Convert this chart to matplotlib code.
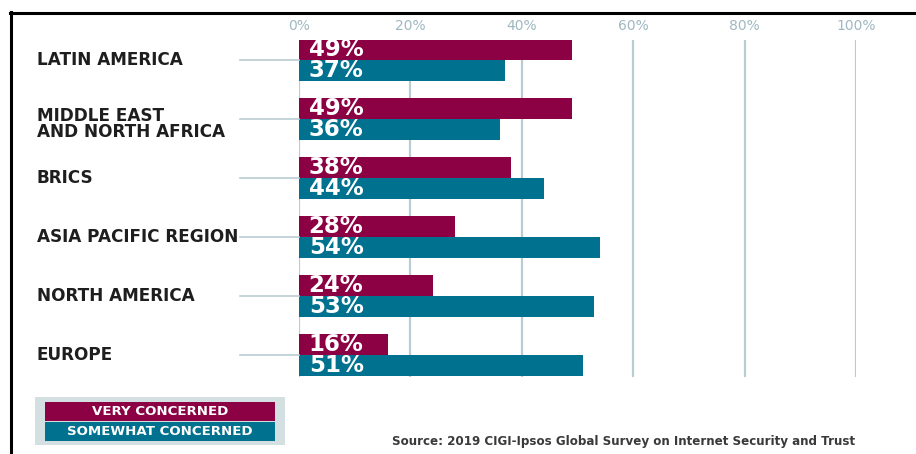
import matplotlib
matplotlib.use("Agg")
import matplotlib.pyplot as plt
import matplotlib.transforms as mtransforms
from matplotlib.patches import Rectangle
from matplotlib.lines import Line2D
import numpy as np

regions = ["LATIN AMERICA", "MIDDLE EAST\nAND NORTH AFRICA", "BRICS",
           "ASIA PACIFIC REGION", "NORTH AMERICA", "EUROPE"]
very_concerned = [49, 49, 38, 28, 24, 16]
somewhat_concerned = [37, 36, 44, 54, 53, 51]
x_ticks = [0, 20, 40, 60, 80, 100]
x_tick_labels = ["0%", "20%", "40%", "60%", "80%", "100%"]
legend_labels = ["VERY CONCERNED", "SOMEWHAT CONCERNED"]
source_text = "Source: 2019 CIGI-Ipsos Global Survey on Internet Security and Trust"

RED = "#8C0044"
BLUE = "#00718F"
GRID = "#B9CCD2"
TICK = "#9FB8C1"
LEGBG = "#D4DFE2"

W, H = 916, 454
fig = plt.figure(figsize=(W / 100, H / 100), dpi=100)
fig.patch.set_facecolor("white")
px = mtransforms.Affine2D().scale(1 / W, -1 / H).translate(0, 1) + fig.transFigure

# main axes: x 0..100 maps to px 299..856, y from px 40 to 377
x0, x1 = 299, 856
y_top, y_bot = 40, 377
ax = fig.add_axes([x0 / W, 1 - y_bot / H, (x1 - x0) / W, (y_bot - y_top) / H])
pitch = 59.0
center0 = 60.0
ax.set_xlim(0, 100)
ax.set_ylim((y_bot - center0) / pitch, (y_top - center0) / pitch)
for s in ax.spines.values():
    s.set_visible(False)
ax.set_facecolor("none")

pos = np.arange(len(regions))
bh = 0.362
ax.barh(pos - bh / 2, very_concerned, height=bh, color=RED, zorder=3)
ax.barh(pos + bh / 2, somewhat_concerned, height=bh, color=BLUE, zorder=3)

for xt in x_ticks:
    ax.axvline(xt, color=GRID, lw=1.6, zorder=1)

ax.set_xticks(x_ticks)
ax.set_xticklabels(x_tick_labels)
ax.xaxis.tick_top()
ax.tick_params(axis="x", length=0, pad=5, labelsize=10, labelcolor=TICK)
ax.set_yticks([])

for i, (v, s) in enumerate(zip(very_concerned, somewhat_concerned)):
    ax.annotate(f"{v}%", (0, i - bh / 2), xytext=(7, 0), textcoords="offset points",
                color="white", fontsize=16.5, fontweight="bold", va="center", ha="left",
                zorder=4)
    ax.annotate(f"{s}%", (0, i + bh / 2), xytext=(7, 0), textcoords="offset points",
                color="white", fontsize=16.5, fontweight="bold", va="center", ha="left",
                zorder=4)

# region labels and connector lines
for i, name in enumerate(regions):
    yc = center0 + i * pitch
    off = 5 if "\n" in name else 0
    fig.text(37, yc + off, name, transform=px, ha="left", va="center",
             fontsize=12.2, fontweight="bold", color="#1E1E1E", linespacing=0.92)
    fig.add_artist(Line2D([240, 299], [yc, yc], transform=px, color=GRID, lw=1.2))

# legend
fig.add_artist(Rectangle((35, 397), 250, 48, transform=px, color=LEGBG, lw=0))
fig.add_artist(Rectangle((45, 402), 230, 18.5, transform=px, color=RED, lw=0))
fig.add_artist(Rectangle((45, 422), 230, 18.5, transform=px, color=BLUE, lw=0))
fig.text(160, 411.5, legend_labels[0], transform=px, ha="center", va="center",
         fontsize=9.6, fontweight="bold", color="white")
fig.text(160, 431.5, legend_labels[1], transform=px, ha="center", va="center",
         fontsize=9.6, fontweight="bold", color="white")

# source
fig.text(855, 441, source_text, transform=px, ha="right", va="center",
         fontsize=8.6, fontweight="bold", color="#3A3A3A")

# frame lines
fig.add_artist(Line2D([10, W], [12.5, 12.5], transform=px, color="black", lw=2.2))
fig.add_artist(Line2D([10.5, 10.5], [12, H], transform=px, color="black", lw=2.2))

fig.savefig("out.png", dpi=100, facecolor="white")
